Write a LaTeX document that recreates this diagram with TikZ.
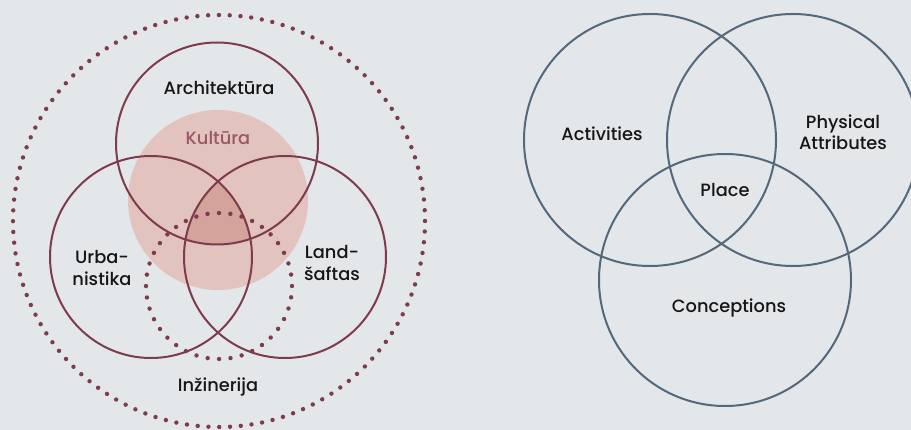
\documentclass[tikz,border=0pt]{standalone}
\usepackage{fontspec}
\setmainfont{Poppins}[UprightFont=* Medium]
\usepackage{tikz}
\usepackage{xcolor}

\definecolor{bgGray}{HTML}{E3E7EA}
\definecolor{wine}{HTML}{7D3B4B}
\definecolor{rosePink}{HTML}{E2C3BE}
\definecolor{roseDark}{HTML}{D3A39C}
\definecolor{roseText}{HTML}{9A5866}
\definecolor{slate}{HTML}{55687A}
\definecolor{ink}{HTML}{161616}

\begin{document}
\begin{tikzpicture}[x=1pt, y=-1pt,
    ring/.style={draw=wine, line width=2pt},
    dotring/.style={draw=wine, line width=4.4pt, line cap=round, dash pattern=on 0pt off #1},
    slatering/.style={draw=slate, line width=2pt},
    lbl/.style={font=\fontsize{17.8}{21.5}\selectfont, text=ink, align=center, inner sep=0pt}]

    % background and page size
    \fill[bgGray] (0, 0) rectangle (911, 430);
    \useasboundingbox (0, 0) rectangle (911, 430);

    % left diagram
    \coordinate (arch) at (217, 143.5);
    \coordinate (urba) at (151, 257);
    \coordinate (land) at (285, 257);
    \coordinate (kult) at (218, 200);
    \coordinate (inz) at (219, 286);
    \coordinate (outer) at (219, 221);

    \fill[rosePink] (kult) circle (90pt);
    \begin{scope}
        \clip (arch) circle (101pt);
        \clip (urba) circle (101pt);
        \fill[roseDark] (land) circle (101pt);
    \end{scope}

    \draw[ring] (arch) circle (101pt);
    \draw[ring] (urba) circle (101pt);
    \draw[ring] (land) circle (101pt);

    \draw[dotring=11.47pt] (inz) circle (73pt);
    \draw[dotring=10.79pt] (outer) circle (206pt);

    \node[lbl] (architektura) at (219, 88) {Architektūra};
    \node[lbl, text=roseText] (kultura) at (218, 138) {Kultūra};
    \node[lbl] (urbanistika) at (102, 268) {Urba-\\nistika};
    \node[lbl] (landsaftas) at (332, 263) {Land-\\šaftas};
    \node[lbl] (inzinerija) at (218, 387) {Inžinerija};

    % right diagram
    \coordinate (act) at (650, 140);
    \coordinate (phys) at (793, 140);
    \coordinate (conc) at (725, 280);

    \draw[slatering] (act) circle (126pt);
    \draw[slatering] (phys) circle (126pt);
    \draw[slatering] (conc) circle (126pt);

    \node[lbl] (activities) at (602, 134) {Activities};
    \node[lbl] (physical) at (843, 132) {Physical\\Attributes};
    \node[lbl] (place) at (725, 190) {Place};
    \node[lbl] (conceptions) at (729, 308) {Conceptions};
\end{tikzpicture}
\end{document}
